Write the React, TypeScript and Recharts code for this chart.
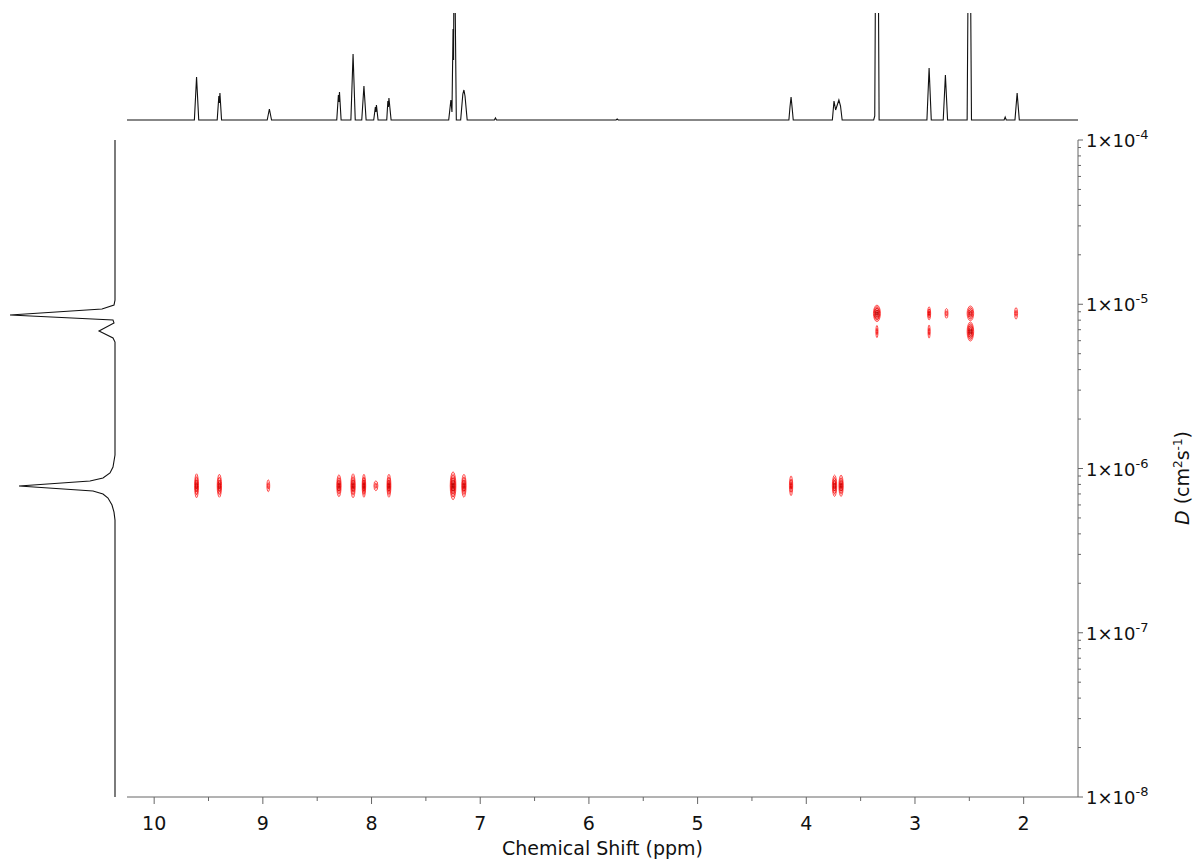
import { Line, LineChart, Scatter, ScatterChart, XAxis, YAxis } from "recharts";

const CHART_W = 1196;
const CHART_H = 861;
const PLOT_LEFT = 127;
const PLOT_RIGHT = 1078;
const PLOT_TOP = 140;
const PLOT_BOTTOM = 797;
const SPEC_TOP = 13;
const SPEC_BASE = 120;

const FONT = "'DejaVu Sans', Verdana, sans-serif";

// chemical shift axis (ppm), drawn high -> low
const shiftDomain: [number, number] = [1.5, 10.25];
const shiftTicks = [10, 9.5, 9, 8.5, 8, 7.5, 7, 6.5, 6, 5.5, 5, 4.5, 4, 3.5, 3, 2.5, 2];

// diffusion axis (cm2 s-1), log scale
const diffDomain: [number, number] = [1e-8, 1e-4];
const decades = [-8, -7, -6, -5];
const mantissas = [1, 2, 3, 4, 5, 6, 7, 8, 9];
const diffTicks = [...decades.flatMap((e) => mantissas.map((m) => m * 10 ** e)), 1e-4];

// 1H projection on top: [ppm, intensity]
const protonTrace: [number, number][] = [
  [10.25, 0],
  [9.63, 0], [9.61, 43], [9.59, 0],
  [9.42, 0], [9.405, 24], [9.4, 17], [9.395, 27], [9.38, 0],
  [8.96, 0], [8.94, 11], [8.92, 0],
  [8.32, 0], [8.305, 25], [8.3, 18], [8.295, 28], [8.28, 0],
  [8.19, 0], [8.17, 66], [8.15, 0],
  [8.09, 0], [8.07, 34], [8.05, 0],
  [7.98, 0], [7.965, 13], [7.96, 8], [7.955, 15], [7.94, 0],
  [7.86, 0], [7.85, 19], [7.845, 13], [7.84, 22], [7.82, 0],
  [7.29, 0], [7.27, 20], [7.26, 8], [7.25, 91], [7.245, 60], [7.24, 220], [7.22, 0],
  [7.18, 0], [7.16, 26], [7.15, 30], [7.14, 24], [7.12, 0],
  [6.87, 0], [6.86, 2], [6.85, 0],
  [5.75, 0], [5.74, 1], [5.73, 0],
  [4.16, 0], [4.15, 13], [4.14, 23], [4.13, 12], [4.12, 0],
  [3.76, 0], [3.745, 19], [3.73, 10], [3.7, 20], [3.685, 14], [3.67, 0],
  [3.38, 0], [3.37, 4], [3.35, 420], [3.33, 0],
  [2.89, 0], [2.87, 52], [2.85, 0],
  [2.74, 0], [2.72, 45], [2.7, 0],
  [2.52, 0], [2.5, 320], [2.48, 0],
  [2.18, 0], [2.17, 3], [2.16, 0],
  [2.08, 0], [2.06, 27], [2.04, 0],
  [1.5, 0],
];

// diffusion projection on the left: [D, intensity]
const diffusionTrace: [number, number][] = [
  [1e-4, 0], [1.06e-5, 0], [9.89e-6, 1], [9.35e-6, 13], [8.6e-6, 105], [8.02e-6, 2],
  [7.7e-6, 1], [6.87e-6, 16], [6.24e-6, 2], [5.89e-6, 0],
  [1.208e-6, 0], [1.021e-6, 2], [9.39e-7, 5], [8.75e-7, 12], [8.39e-7, 25],
  [7.82e-7, 96], [7.29e-7, 22], [6.99e-7, 12], [6.61e-7, 7], [5.99e-7, 3],
  [5.43e-7, 1], [4.85e-7, 0], [1e-8, 0],
];

// DOSY cross peaks: [ppm, half width (ppm), half spread (decades), contour levels]
const slowD = 7.85e-7;
const slowSpots: [number, number, number, number][] = [
  [9.61, 0.018, 0.073, 4], [9.4, 0.02, 0.07, 4], [8.95, 0.013, 0.036, 2],
  [8.3, 0.02, 0.067, 4], [8.17, 0.02, 0.073, 4], [8.07, 0.016, 0.07, 4],
  [7.96, 0.018, 0.03, 2], [7.84, 0.018, 0.07, 4], [7.25, 0.026, 0.085, 5],
  [7.15, 0.02, 0.07, 4], [4.14, 0.015, 0.06, 3], [3.74, 0.02, 0.065, 4],
  [3.68, 0.02, 0.065, 4],
];
const fastD = 8.8e-6;
const fastSpots: [number, number, number, number][] = [
  [3.35, 0.032, 0.05, 5], [2.87, 0.014, 0.04, 3], [2.71, 0.014, 0.03, 2],
  [2.49, 0.03, 0.045, 4], [2.07, 0.014, 0.035, 2],
];
const fastLowD = 6.82e-6;
const fastLowSpots: [number, number, number, number][] = [
  [3.35, 0.01, 0.037, 2], [2.87, 0.01, 0.04, 2], [2.49, 0.03, 0.058, 5],
];

const toSpot = (D: number) => ([ppm, hw, hs, lv]: [number, number, number, number]) => ({ ppm, D, hw, hs, lv });
const spotData = [
  ...slowSpots.map(toSpot(slowD)),
  ...fastSpots.map(toSpot(fastD)),
  ...fastLowSpots.map(toSpot(fastLowD)),
];
const protonData = protonTrace.map(([ppm, h]) => ({ ppm, h }));
const diffusionData = diffusionTrace.map(([D, i]) => ({ D, i }));

const PX_PER_PPM = (PLOT_RIGHT - PLOT_LEFT) / (shiftDomain[1] - shiftDomain[0]);
const PX_PER_DECADE = (PLOT_BOTTOM - PLOT_TOP) / 4;
const ringColors = ["#ff3d3d", "#f51515", "#e40000", "#cc0000", "#b00000"];

function ContourSpot(props: any) {
  const { cx, cy, payload } = props;
  const rx = payload.hw * PX_PER_PPM;
  const ry = payload.hs * PX_PER_DECADE;
  const rings = [];
  for (let k = payload.lv; k >= 1; k--) {
    const f = k / payload.lv;
    rings.push(
      <ellipse
        key={k}
        cx={cx}
        cy={cy}
        rx={Math.max(rx * f, 0.6)}
        ry={ry * f}
        fill="rgba(255,0,0,0.12)"
        stroke={ringColors[payload.lv - k]}
        strokeWidth={0.9}
      />
    );
  }
  return <g>{rings}</g>;
}

function ShiftTick(props: any) {
  const { x, y, payload } = props;
  const major = Number.isInteger(payload.value);
  return (
    <g>
      <line x1={x} y1={y} x2={x} y2={y + (major ? 7 : 4)} stroke="#666" />
      {major && (
        <text x={x} y={y + 33} textAnchor="middle" fontSize={19} fontFamily={FONT} fill="#111">
          {payload.value}
        </text>
      )}
    </g>
  );
}

function DiffTick(props: any) {
  const { x, y, payload } = props;
  const exp = Math.floor(Math.log10(payload.value) + 1e-9);
  const major = Math.abs(payload.value / 10 ** exp - 1) < 1e-6;
  return (
    <g>
      <line x1={x} y1={y} x2={x + (major ? 5 : 3)} y2={y} stroke="#666" />
      {major && (
        <text x={x + 8} y={y + 7} fontSize={18} fontFamily={FONT} fill="#111">
          1×10
          <tspan dy={-8} fontSize={13}>{exp}</tspan>
        </text>
      )}
    </g>
  );
}

function ShiftLabel() {
  return (
    <text x={(PLOT_LEFT + PLOT_RIGHT) / 2} y={855} textAnchor="middle" fontSize={19} fontFamily={FONT} fill="#111">
      Chemical Shift (ppm)
    </text>
  );
}

function DiffLabel() {
  return (
    <text transform="translate(1189, 478) rotate(-90)" textAnchor="middle" fontSize={19} fontFamily={FONT} fill="#111">
      <tspan fontStyle="italic">D</tspan> (cm
      <tspan dy={-7} fontSize={12}>2</tspan>
      <tspan dy={7}>s</tspan>
      <tspan dy={-7} fontSize={12}>-1</tspan>
      <tspan dy={7}>)</tspan>
    </text>
  );
}

export default function App() {
  return (
    <div style={{ position: "absolute", left: 0, top: 0, width: CHART_W, height: CHART_H, background: "#fff", fontFamily: FONT }}>
      <div style={{ position: "absolute", left: 0, top: 0 }}>
        <ScatterChart width={CHART_W} height={CHART_H} margin={{ top: PLOT_TOP, left: PLOT_LEFT, right: 18, bottom: 14 }}>
          <XAxis
            type="number"
            dataKey="ppm"
            domain={shiftDomain}
            reversed
            allowDataOverflow
            ticks={shiftTicks}
            interval={0}
            height={50}
            tickSize={0}
            tickMargin={0}
            tickLine={false}
            axisLine={{ stroke: "#666" }}
            tick={<ShiftTick />}
            label={<ShiftLabel />}
          />
          <YAxis
            type="number"
            dataKey="D"
            scale="log"
            domain={diffDomain}
            allowDataOverflow
            orientation="right"
            ticks={diffTicks}
            interval={0}
            width={100}
            tickSize={0}
            tickMargin={0}
            tickLine={false}
            axisLine={{ stroke: "#666" }}
            tick={<DiffTick />}
            label={<DiffLabel />}
          />
          <Scatter data={spotData} shape={<ContourSpot />} isAnimationActive={false} />
        </ScatterChart>
      </div>
      <div style={{ position: "absolute", left: PLOT_LEFT, top: 0 }}>
        <LineChart
          width={PLOT_RIGHT - PLOT_LEFT}
          height={SPEC_BASE + 3}
          data={protonData}
          margin={{ top: SPEC_TOP, right: 0, bottom: 2, left: 0 }}
        >
          <XAxis type="number" dataKey="ppm" domain={shiftDomain} reversed hide allowDataOverflow />
          <YAxis type="number" domain={[-1, SPEC_BASE - SPEC_TOP]} hide allowDataOverflow />
          <Line dataKey="h" type="linear" dot={false} stroke="#111" strokeWidth={1.1} isAnimationActive={false} />
        </LineChart>
      </div>
      <div style={{ position: "absolute", left: 0, top: 0 }}>
        <ScatterChart width={118} height={CHART_H} margin={{ top: PLOT_TOP, left: 10, right: 3, bottom: CHART_H - PLOT_BOTTOM }}>
          <XAxis type="number" dataKey="i" domain={[0, 105]} reversed hide />
          <YAxis type="number" dataKey="D" scale="log" domain={diffDomain} hide />
          <Scatter
            data={diffusionData}
            line={{ stroke: "#111", strokeWidth: 1.1 }}
            lineType="joint"
            shape={() => <g />}
            isAnimationActive={false}
          />
        </ScatterChart>
      </div>
    </div>
  );
}
